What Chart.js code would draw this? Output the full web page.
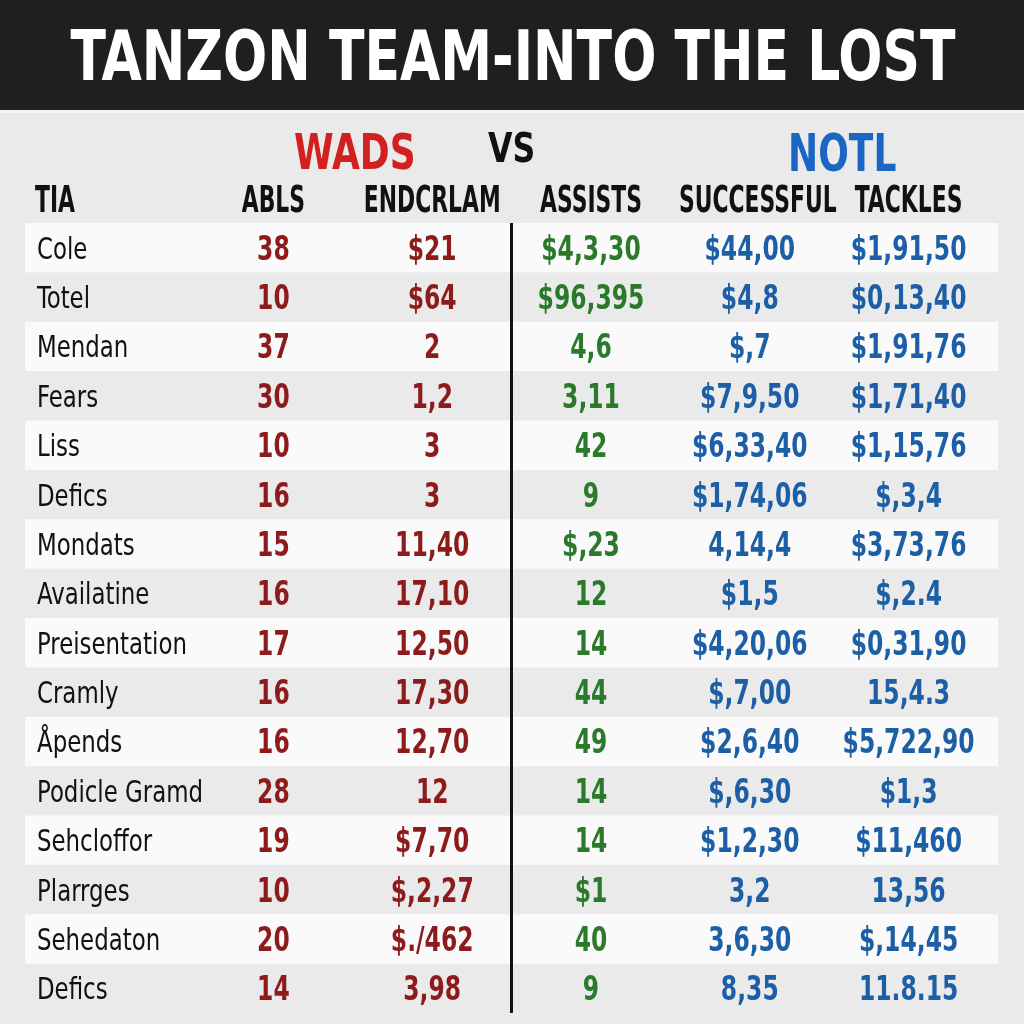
<!DOCTYPE html>
<html>
<head>
<meta charset="utf-8">
<script src="https://cdn.jsdelivr.net/npm/chart.js@4.4.1/dist/chart.umd.min.js"></script>
<style>
  html, body { margin: 0; padding: 0; background: #ebebeb; }
  #wrap { width: 1024px; height: 1024px; }
</style>
</head>
<body>
<div id="wrap"><canvas id="myChart"></canvas></div>
<script>
// Datos de la tabla
const chartTitle = 'TANZON TEAM-INTO THE LOST';
const teamLeft = 'WADS';
const teamRight = 'NOTL';
const rowHeader = 'TIA';
const columns = ['ABLS', 'ENDCRLAM', 'ASSISTS', 'SUCCESSFUL', 'TACKLES'];
const players = ['Cole', 'Totel', 'Mendan', 'Fears', 'Liss', 'Defics', 'Mondats', 'Availatine',
    'Preisentation', 'Cramly', 'Åpends', 'Podicle Gramd', 'Sehcloffor', 'Plarrges', 'Sehedaton', 'Defics'];

const ablsValues = ['38', '10', '37', '30', '10', '16', '15', '16', '17', '16', '16', '28', '19', '10', '20', '14'];
const endcrlamValues = ['$21', '$64', '2', '1,2', '3', '3', '11,40', '17,10', '12,50', '17,30', '12,70', '12',
    '$7,70', '$,2,27', '$./462', '3,98'];
const assistsValues = ['$4,3,30', '$96,395', '4,6', '3,11', '42', '9', '$,23', '12', '14', '44', '49', '14',
    '14', '$1', '40', '9'];
const successfulValues = ['$44,00', '$4,8', '$,7', '$7,9,50', '$6,33,40', '$1,74,06', '4,14,4', '$1,5',
    '$4,20,06', '$,7,00', '$2,6,40', '$,6,30', '$1,2,30', '3,2', '3,6,30', '8,35'];
const tacklesValues = ['$1,91,50', '$0,13,40', '$1,91,76', '$1,71,40', '$1,15,76', '$,3,4', '$3,73,76', '$,2.4',
    '$0,31,90', '15,4.3', '$5,722,90', '$1,3', '$11,460', '13,56', '$,14,45', '11.8.15'];

const columnValues = [ablsValues, endcrlamValues, assistsValues, successfulValues, tacklesValues];
const columnColors = ['#8e1b1b', '#8e1b1b', '#2b7a2b', '#1c5fa6', '#1c5fa6'];

const NARROW = '"Liberation Sans Narrow", "DejaVu Sans Condensed", "Roboto Condensed", Roboto, sans-serif';

// Texto comprimido horizontalmente (sx < 1 = más estrecho)
function drawText(ctx, text, x, y, font, color, align, sx, fitWidth) {
    ctx.save();
    ctx.font = font;
    ctx.fillStyle = color;
    ctx.textAlign = align;
    ctx.textBaseline = 'alphabetic';
    if (fitWidth) sx = fitWidth / ctx.measureText(text).width;
    ctx.translate(x, y);
    ctx.scale(sx, 1);
    ctx.fillText(text, 0, 0);
    ctx.restore();
}

const tablePlugin = {
    id: 'tablePlugin',
    beforeDraw(chart) {
        const ctx = chart.ctx;
        const { x: xs, y: ys } = chart.scales;
        const W = chart.width;
        ctx.save();
        ctx.fillStyle = '#eaeaea';
        ctx.fillRect(0, 0, W, chart.height);
        // banda del título
        ctx.fillStyle = '#1f1f1f';
        ctx.fillRect(0, 0, W, 110);
        ctx.fillStyle = '#f5f5f5';
        ctx.fillRect(0, 110, W, 3);
        // filas alternas
        const band = (ys.bottom - ys.top) / players.length;
        players.forEach((p, i) => {
            if (i % 2 === 0) {
                const cy = ys.getPixelForValue(i);
                ctx.fillStyle = '#fafafa';
                ctx.fillRect(ys.left - 12, cy - band / 2, xs.right + 10 - (ys.left - 12), band);
            }
        });
        ctx.restore();

        drawText(ctx, chartTitle, W / 2 + 1, 80, 'bold 70px ' + NARROW, '#ffffff', 'center', 1, 885);

        // equipos
        const mid01 = (xs.getPixelForValue(0) + xs.getPixelForValue(1)) / 2;
        const mid12 = (xs.getPixelForValue(1) + xs.getPixelForValue(2)) / 2;
        const mid34 = (xs.getPixelForValue(3) + xs.getPixelForValue(4)) / 2;
        drawText(ctx, teamLeft, mid01 + 2, 169, 'bold 50px ' + NARROW, '#d21f1f', 'center', 0.8);
        drawText(ctx, 'VS', mid12, 162, 'bold 40px ' + NARROW, '#111111', 'center', 0.88);
        drawText(ctx, teamRight, mid34 + 13, 171, 'bold 52px ' + NARROW, '#1a66c2', 'center', 0.77);

        // cabeceras
        drawText(ctx, rowHeader, ys.left - 2, 212, 'bold 38px ' + NARROW, '#111111', 'left', 0.64);
        columns.forEach((c, i) => {
            drawText(ctx, c, xs.getPixelForValue(i) + (i === 3 ? 8 : 0), 212, 'bold 38px ' + NARROW, '#111111', 'center', 0.64);
        });

        // nombres de fila, desde la escala y
        ys.getLabels().forEach((name, i) => {
            drawText(ctx, name, ys.left, ys.getPixelForValue(i) + 11, '31px ' + NARROW, '#111111', 'left', 0.82);
        });
    },
    afterDatasetsDraw(chart) {
        const ctx = chart.ctx;
        chart.data.datasets.forEach((ds, di) => {
            const meta = chart.getDatasetMeta(di);
            meta.data.forEach((pt, i) => {
                drawText(ctx, columnValues[di][i], pt.x, pt.y + 12, 'bold 33px ' + NARROW, columnColors[di], 'center', 0.79);
            });
        });
    }
};

const ctx = document.getElementById('myChart').getContext('2d');
const chart = new Chart(ctx, {
    type: 'scatter',
    data: {
        datasets: columns.map((c, ci) => ({
            label: c,
            data: players.map((p, i) => ({ x: c, y: i })),
            pointRadius: 0,
            pointHoverRadius: 0
        }))
    },
    options: {
        responsive: true,
        maintainAspectRatio: false,
        animation: false,
        events: [],
        layout: { padding: { top: 223, left: 37, right: 36, bottom: 11 } },
        plugins: { legend: { display: false }, tooltip: { enabled: false }, title: { display: false } },
        scales: {
            x: {
                type: 'category',
                labels: columns,
                position: 'top',
                offset: true,
                ticks: { display: false },
                border: { display: false },
                grid: {
                    offset: true,
                    drawTicks: false,
                    lineWidth: 3,
                    color: (c) => c.index === 2 ? '#111111' : 'rgba(0,0,0,0)'
                },
                afterFit: (s) => { s.height = 0; }
            },
            y: {
                type: 'category',
                labels: players,
                offset: true,
                border: { display: false },
                grid: { display: false, drawTicks: false },
                ticks: { display: false, autoSkip: false },
                afterFit: (s) => { s.width = 157; }
            }
        }
    },
    plugins: [tablePlugin]
});
</script>
</body>
</html>
